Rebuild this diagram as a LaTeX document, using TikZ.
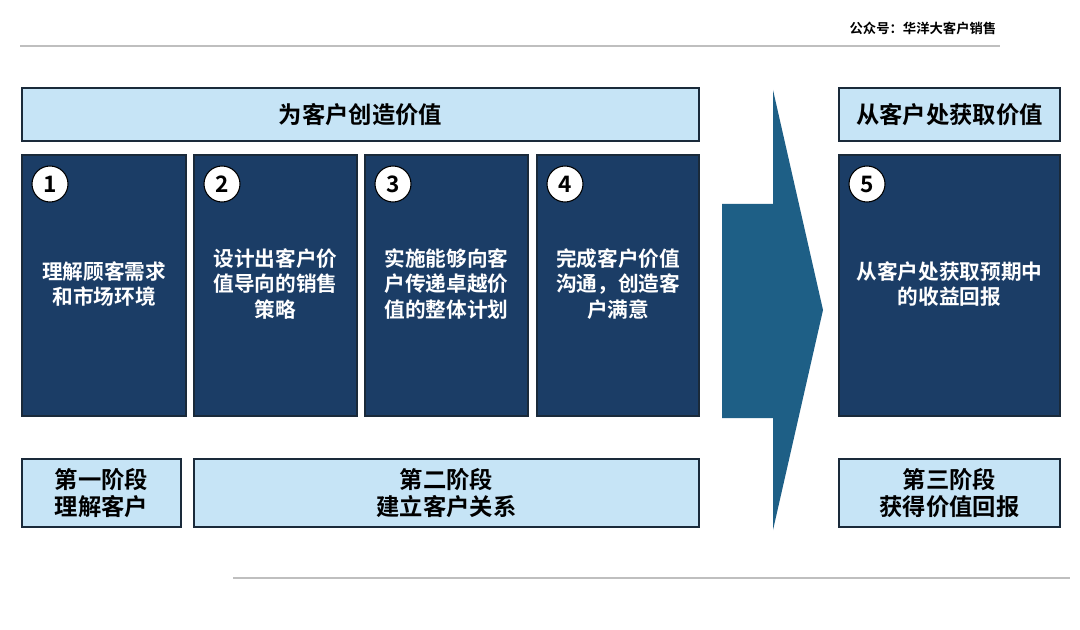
\documentclass[tikz,border=0pt]{standalone}
\usepackage{fontspec}
\setmainfont{Noto Sans CJK SC}[BoldFont={* Bold}]
\newfontfamily\cjkb{Noto Sans CJK SC Bold}
\definecolor{lb}{HTML}{C6E4F6}
\definecolor{db}{HTML}{1B3D66}
\definecolor{ar}{HTML}{1E5F86}
\definecolor{edge}{HTML}{1A2A3A}
\tikzset{
 lbox/.style={draw=edge,line width=1pt,fill=lb},
 dbox/.style={draw=edge,line width=0.8pt,fill=db},
 num/.style={circle,draw=black,line width=0.8pt,fill=white,minimum size=27pt,inner sep=0pt,font=\cjkb\fontsize{17}{17}\selectfont},
 wtxt/.style={text=white,font=\cjkb\fontsize{15.5}{19}\selectfont,align=center},
 btxt/.style={text=black,font=\cjkb\fontsize{17.5}{20}\selectfont,align=center},
}
\begin{document}
\begin{tikzpicture}[x=0.75pt,y=-0.75pt]
\useasboundingbox (0,0) rectangle (1080,630);
\fill[white] (0,0) rectangle (1080,630);
\node[anchor=east,font=\cjkb\fontsize{10}{10}\selectfont] (hdr) at (1001,28) {公众号：华洋大客户销售};
\draw[gray!50,line width=1.2pt] (20,46) -- (1000,46);
\draw[gray!50,line width=1.2pt] (233,578) -- (1070,578);
% top boxes
\draw[lbox] (22,88) rectangle (699,141);
\node[btxt] (t1) at (360.5,114.5) {为客户创造价值};
\draw[lbox] (839,88) rectangle (1060,141);
\node[btxt] (t2) at (949.5,114.5) {从客户处获取价值};
% dark boxes
\foreach \xa/\xb/\n/\txt in {22/186/1/{理解顾客需求\\和市场环境},194/357/2/{设计出客户价\\值导向的销售\\策略},365/528/3/{实施能够向客\\户传递卓越价\\值的整体计划},537/699/4/{完成客户价值\\沟通，创造客\\户满意},839/1060/5/{从客户处获取预期中\\的收益回报}}{
 \draw[dbox] (\xa,155) rectangle (\xb,416);
 \node[num] (n\n) at (\xa+28,184) {\n};
 \node[wtxt] (s\n) at ({(\xa+\xb)/2},284) {\txt};
}
% arrow
\fill[ar] (722,204) -- (773,204) -- (773,90) -- (823,310) -- (773,530) -- (773,418) -- (722,418) -- cycle;
% bottom boxes
\draw[lbox] (22,459) rectangle (181,527);
\node[btxt] (b1) at (101.5,493) {第一阶段\\理解客户};
\draw[lbox] (194,459) rectangle (699,527);
\node[btxt] (b2) at (446.5,493) {第二阶段\\建立客户关系};
\draw[lbox] (839,459) rectangle (1060,527);
\node[btxt] (b3) at (949.5,493) {第三阶段\\获得价值回报};
\end{tikzpicture}
\end{document}
